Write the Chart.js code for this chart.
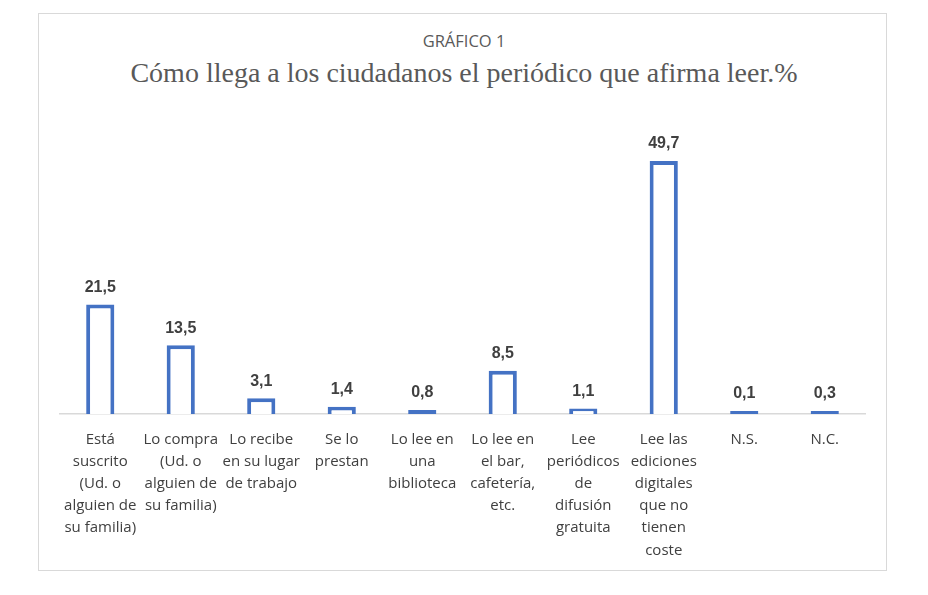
<!DOCTYPE html>
<html>
<head>
<meta charset="utf-8">
<script src="https://cdn.jsdelivr.net/npm/chart.js@4.4.0/dist/chart.umd.min.js"></script>
<style>
  html, body { margin: 0; padding: 0; background: #ffffff; }
  #wrap { position: relative; width: 928px; height: 595px; }
  #box { position: absolute; left: 38px; top: 13px; width: 849px; height: 558px; border: 1px solid #d9d9d9; box-sizing: border-box; }
  #t1 { position: absolute; left: 0; width: 928px; top: 30px; text-align: center; font-family: "Open Sans", sans-serif; font-size: 16.5px; color: #595959; line-height: 22px; }
  #t2 { position: absolute; left: 0; width: 928px; top: 55px; text-align: center; font-family: "Liberation Serif", "Times New Roman", serif; font-size: 28px; color: #595959; line-height: 36px; }
  canvas { position: absolute; left: 0; top: 0; }
</style>
</head>
<body>
<div id="wrap">
  <div id="box"></div>
  <div id="t1">GRÁFICO 1</div>
  <div id="t2">Cómo llega a los ciudadanos el periódico que afirma leer.%</div>
  <canvas id="c" width="928" height="595"></canvas>
</div>
<script>
const categories = [
  ["Está", "suscrito", "(Ud. o", "alguien de", "su familia)"],
  ["Lo compra", "(Ud. o", "alguien de", "su familia)"],
  ["Lo recibe", "en su lugar", "de trabajo"],
  ["Se lo", "prestan"],
  ["Lo lee en", "una", "biblioteca"],
  ["Lo lee en", "el bar,", "cafetería,", "etc."],
  ["Lee", "periódicos", "de", "difusión", "gratuita"],
  ["Lee las", "ediciones", "digitales", "que no", "tienen", "coste"],
  ["N.S."],
  ["N.C."]
];
const values = [21.5, 13.5, 3.1, 1.4, 0.8, 8.5, 1.1, 49.7, 0.1, 0.3];
const yMax = 60;

const labelPlugin = {
  id: 'valueLabels',
  afterDatasetsDraw(chart) {
    const ctx = chart.ctx;
    const meta = chart.getDatasetMeta(0);
    ctx.save();
    ctx.font = 'bold 16px "Liberation Sans", Arial, sans-serif';
    ctx.fillStyle = '#404040';
    ctx.textAlign = 'center';
    ctx.textBaseline = 'middle';
    meta.data.forEach((bar, i) => {
      const txt = values[i].toFixed(1).replace('.', ',');
      ctx.fillText(txt, bar.x, bar.y - 17);
    });
    ctx.restore();
  }
};

new Chart(document.getElementById('c'), {
  type: 'bar',
  data: {
    labels: categories,
    datasets: [{
      data: values,
      backgroundColor: '#ffffff',
      borderColor: '#4472c4',
      borderWidth: 4,
      borderSkipped: (c) => (c.raw < 1 ? false : 'start'),
      minBarLength: 3,
      barPercentage: 0.35,
      categoryPercentage: 1.0
    }]
  },
  options: {
    responsive: false,
    animation: false,
    devicePixelRatio: 1,
    layout: { padding: { left: 60, right: 63, top: 108.6, bottom: 0 } },
    plugins: { legend: { display: false }, title: { display: false }, tooltip: { enabled: false } },
    scales: {
      y: { display: false, min: 0, max: yMax },
      x: {
        grid: { display: false, drawTicks: false },
        border: { display: true, color: '#d9d9d9', width: 1.5 },
        ticks: {
          autoSkip: false, maxRotation: 0, minRotation: 0, padding: 15,
          color: '#404040',
          font: { family: '"Open Sans", sans-serif', size: 15, lineHeight: 1.47 }
        },
        afterFit: (scale) => { scale.height = 595 - 414; }
      }
    }
  },
  plugins: [labelPlugin]
});
</script>
</body>
</html>
